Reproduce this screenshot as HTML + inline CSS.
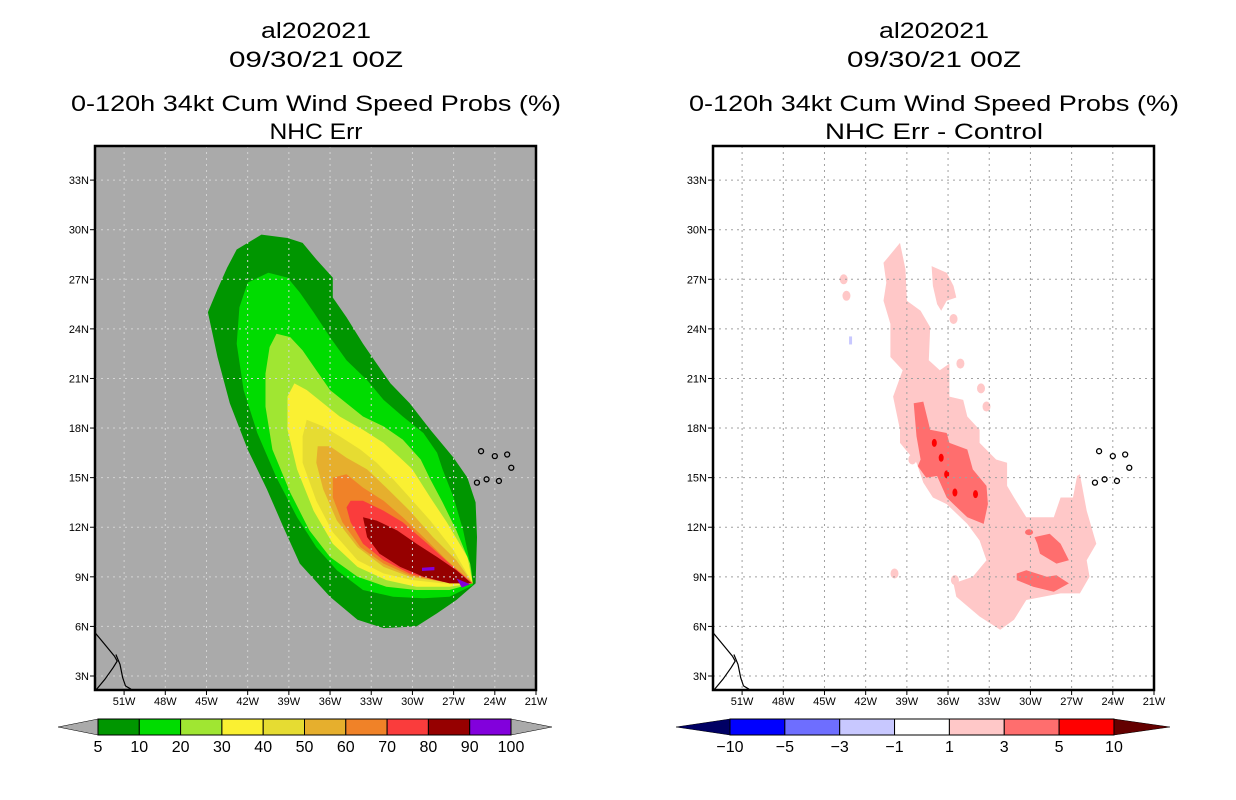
<!DOCTYPE html>
<html><head><meta charset="utf-8"><style>
html,body{margin:0;padding:0;background:#fff;}
svg{display:block;font-family:"Liberation Sans",sans-serif;}
</style></head><body>
<svg id="chart" width="1236" height="800" viewBox="0 0 1236 800">
<rect width="1236" height="800" fill="#fff"/>
<defs>
<clipPath id="clipL"><rect x="95" y="146" width="441" height="544"/></clipPath>
<clipPath id="clipR"><rect x="713" y="146" width="441" height="544"/></clipPath>
</defs>
<g id="left"></g>
<g id="right"></g>
<g id="cbars"></g>
</svg>
<script>
// ---- data (lon in degrees W, lat in degrees N) ----
const lonTicks = [51,48,45,42,39,36,33,30,27,24,21];
const latTicks = [3,6,9,12,15,18,21,24,27,30,33];
const probLevels = ['5','10','20','30','40','50','60','70','80','90','100'];
const probColors = ['#009600','#00dc00','#a0e632','#faf032','#e6dc32','#e6af2d','#f08228','#fa3c3c','#960000','#8200dc'];
const diffLevels = ['\u221210','\u22125','\u22123','\u22121','1','3','5','10'];
const diffColors = ['#0000ff','#6e6eff','#c8c8ff','#ffffff','#ffc8c8','#ff6e6e','#ff0000'];
const prob5 = [[41.0,29.7],[39.1,29.5],[38.0,29.2],[37.0,28.2],[35.8,27.1],[35.8,25.9],[34.8,24.7],[33.6,23.1],[32.6,21.9],[31.6,20.7],[30.2,19.5],[28.7,17.9],[27.0,16.2],[26.0,15.0],[25.4,13.5],[25.3,11.4],[25.4,8.6],[26.8,7.6],[28.2,6.8],[29.7,6.0],[32.1,5.9],[34.0,6.4],[36.0,7.8],[38.2,9.8],[39.4,12.0],[40.6,14.3],[42.0,16.7],[43.3,19.5],[44.2,22.3],[44.9,25.0],[44.2,26.4],[43.5,27.7],[42.8,28.8]];
const prob10 = [[40.5,27.4],[39.1,27.1],[38.2,26.2],[37.2,25.0],[36.0,23.5],[34.8,22.1],[33.3,20.9],[32.1,19.7],[30.7,18.7],[29.2,17.7],[28.2,16.5],[27.8,15.5],[27.0,13.8],[26.3,11.8],[25.7,9.4],[25.6,8.5],[27.3,7.8],[29.2,7.7],[31.4,7.8],[33.6,8.2],[35.5,9.4],[37.0,10.8],[38.4,12.6],[39.9,15.0],[41.3,17.7],[42.3,20.3],[42.8,23.1],[42.6,25.3],[42.0,26.8]];
const prob20 = [[39.9,23.7],[38.9,23.5],[38.0,22.7],[37.0,21.5],[36.0,20.3],[34.8,19.5],[33.6,18.7],[32.1,18.1],[30.7,17.3],[29.4,16.1],[28.7,14.9],[27.8,13.5],[26.8,11.8],[25.8,9.8],[25.6,8.6],[27.3,8.2],[29.7,8.2],[31.9,8.4],[34.0,9.0],[36.0,10.2],[37.5,11.8],[38.9,14.1],[40.2,16.7],[40.7,19.3],[40.7,21.3],[40.4,22.9]];
const prob30 = [[38.6,20.7],[37.7,20.3],[36.5,19.5],[35.3,18.7],[33.6,17.9],[32.1,17.1],[30.9,16.2],[30.0,15.5],[28.7,13.8],[27.5,12.3],[26.0,10.2],[25.6,8.6],[27.3,8.4],[29.7,8.4],[31.9,8.8],[34.0,9.6],[35.8,11.0],[37.2,13.0],[38.4,15.5],[39.1,17.9],[39.1,19.9]];
const prob40 = [[37.7,18.5],[36.5,18.1],[35.3,17.5],[33.8,16.7],[32.6,15.9],[31.4,14.9],[30.2,13.8],[28.7,12.4],[27.0,10.6],[25.6,8.6],[27.8,8.6],[30.0,8.8],[32.1,9.2],[34.0,10.0],[35.8,11.7],[37.0,13.6],[38.0,15.9],[38.0,17.5]];
const prob50 = [[36.9,16.9],[36.0,16.9],[34.8,16.2],[33.3,15.5],[31.9,14.4],[30.2,13.0],[28.5,11.4],[26.8,10.0],[25.6,8.6],[27.8,8.7],[30.2,9.0],[32.1,9.6],[34.0,10.8],[35.5,12.4],[36.5,14.3],[37.0,15.9]];
const prob60 = [[35.8,15.0],[34.8,15.2],[33.6,14.4],[32.1,13.6],[30.7,12.6],[29.2,11.4],[27.5,10.0],[25.6,8.6],[27.8,8.7],[30.2,9.1],[32.1,9.8],[33.8,10.8],[35.1,12.3],[35.8,13.8]];
const prob70 = [[34.5,13.6],[33.6,13.6],[32.1,13.0],[30.7,12.3],[28.9,11.0],[27.3,9.8],[25.6,8.6],[27.8,8.7],[30.2,9.2],[32.1,10.0],[33.6,11.0],[34.5,12.3],[34.8,13.2]];
const prob80 = [[33.6,12.6],[32.6,12.4],[31.1,11.8],[29.7,11.0],[28.2,10.2],[26.8,9.4],[25.7,8.6],[27.3,8.6],[29.2,9.0],[30.9,9.6],[32.4,10.4],[33.3,11.4]];
const prob90a = [[26.8,8.9],[25.8,8.55],[26.4,8.35]];
const prob90b = [[29.3,9.55],[28.4,9.6],[28.4,9.4],[29.3,9.35]];
const diff1main = [[40.7,28.0],[39.5,29.2],[39.1,27.6],[39.0,25.7],[38.0,25.1],[37.3,24.1],[37.4,22.1],[36.6,21.5],[35.9,21.9],[35.9,19.9],[34.9,19.7],[34.6,18.7],[33.7,17.9],[33.7,17.1],[32.5,16.1],[31.7,15.9],[31.7,14.5],[31.2,13.8],[30.3,12.6],[28.3,12.6],[27.8,13.8],[26.9,13.8],[26.6,15.1],[26.4,15.2],[25.9,13.0],[25.2,11.0],[25.9,10.0],[25.7,9.0],[26.4,8.0],[27.8,8.0],[30.3,7.6],[31.2,6.4],[32.2,5.8],[33.7,6.6],[35.4,7.8],[35.6,8.6],[34.2,9.0],[33.2,10.0],[33.7,11.2],[34.6,12.2],[36.1,13.4],[37.1,13.8],[37.8,14.7],[38.3,15.9],[39.5,17.1],[39.5,17.9],[40.0,19.9],[39.3,21.5],[40.2,22.3],[40.2,24.3],[40.7,25.7],[40.5,26.8]];
const diff1blob = [[37.2,27.8],[36.1,27.4],[35.6,26.6],[35.4,25.9],[36.1,25.7],[36.5,25.1],[36.8,25.5],[37.1,26.6]];
const diff1small = [[35.6,24.6],[35.1,21.9],[43.6,27.0],[43.4,26.0],[38.6,16.1],[39.9,9.2],[35.5,8.8],[33.6,20.4],[33.2,19.3]];
const diff3main = [[38.5,19.5],[37.8,19.6],[37.3,17.9],[36.1,17.7],[35.9,17.1],[34.6,16.7],[34.2,15.5],[33.2,14.5],[33.1,13.4],[33.4,12.2],[34.6,12.6],[35.6,13.4],[36.1,13.8],[36.8,15.1],[37.6,15.0],[38.2,15.7],[38.0,16.1],[38.3,17.5]];
const diff3right = [[29.7,11.4],[28.6,11.6],[27.8,11.0],[27.2,10.0],[28.1,9.8],[29.3,10.4],[29.5,11.0]];
const diff3bottom = [[31.0,9.2],[30.3,9.4],[28.8,9.0],[28.1,9.1],[27.2,8.6],[28.3,8.1],[29.8,8.4],[31.0,8.8]];
const diff3small = [[30.1,11.7]];
const diff5dots = [[37.0,17.1],[36.5,16.2],[36.1,15.2],[35.5,14.1],[34.0,14.0]];
const diffNeg1 = [[43.1,23.3]];
const coast1 = [[53.1,5.6],[52.5,5.0],[52.0,4.5],[51.7,4.2],[51.5,3.9],[51.8,3.5],[52.4,2.8],[53.0,2.2]];
const coast2 = [[51.6,4.3],[51.3,3.7],[51.1,2.9],[50.9,2.4],[50.5,2.2]];
const islands = [[25.0,16.6],[24.0,16.3],[23.1,16.4],[22.8,15.6],[23.7,14.8],[24.6,14.9],[25.3,14.7]];

// ---- axes ----
const NS='http://www.w3.org/2000/svg';
function xs(lonW, off){ return 536 + off - (lonW-21)*13.73; }
function ys(lat){ return 676 - (lat-3)*16.53; }
function el(tag, attrs, parent){ const e=document.createElementNS(NS,tag); for(const k in attrs) e.setAttribute(k,attrs[k]); parent.appendChild(e); return e; }
function pts(arr, off){ return arr.map(p=>xs(p[0],off).toFixed(1)+','+ys(p[1]).toFixed(1)).join(' '); }

function panel(gid, off, bg, gridColor, titleLines, clipId){
  const g=document.getElementById(gid);
  const cx = 316+off;
  titleLines.forEach((t,i)=>{
    const tx=el('text',{x:cx-t.w/2,y:t.y,'font-size':22,fill:'#000',textLength:t.w,lengthAdjust:'spacingAndGlyphs'},g);
    tx.textContent=t.s;
    
    
  });
  const bgr=el('rect',{x:95+off,y:146,width:441,height:544,fill:bg},g);
  
  
  const layer=el('g',{'clip-path':'url(#'+clipId+')'},g);
  
  
  return {g, layer};
}
function grid(p, off, color){
  const gg=el('g',{stroke:color,'stroke-width':1,'stroke-dasharray':'2,4'},p.layer);
  
  
  lonTicks.slice(0,10).forEach(l=>{ el('line',{x1:xs(l,off),x2:xs(l,off),y1:146,y2:690},gg); });
  latTicks.forEach(l=>{ el('line',{x1:95+off,x2:536+off,y1:ys(l),y2:ys(l)},gg); });
}
function axes(p, off){
  const g=p.g;
  lonTicks.forEach(l=>{
    const x=xs(l,off);
    el('line',{x1:x,x2:x,y1:690,y2:695,stroke:'#000'},g);
    const t=el('text',{x:x,y:705,'font-size':11,'text-anchor':'middle',fill:'#000'},g);
    t.textContent=l+'W';
    
    
  });
  latTicks.forEach(l=>{
    const y=ys(l);
    el('line',{x1:90+off,x2:95+off,y1:y,y2:y,stroke:'#000'},g);
    const t=el('text',{x:89+off,y:y+4,'font-size':11,'text-anchor':'end',fill:'#000'},g);
    t.textContent=l+'N';
    
    
  });
  const fr=el('rect',{x:95+off,y:146,width:441,height:544,fill:'none',stroke:'#000','stroke-width':2.5},g);
  
  
}
function geo(p, off){
  [coast1,coast2].forEach(c=>{
    const l=el('polyline',{points:pts(c,off),fill:'none',stroke:'#000','stroke-width':1.2},p.layer);
    
    
  });
  islands.forEach(c=>{
    const i=el('circle',{cx:xs(c[0],off),cy:ys(c[1]),r:2.5,fill:'none',stroke:'#000','stroke-width':1.3},p.layer);
    
    
  });
}
function poly(layer, arr, off, color, name){
  const e=el('polygon',{points:pts(arr,off),fill:color},layer);
  
  
  return e;
}

// Left panel
const L=panel('left',0,'#aaaaaa','#d0d0d0',[
  {s:'al202021',y:38,w:110,name:'storm-id-title'},
  {s:'09/30/21 00Z',y:67,w:174,name:'date-title'},
  {s:'0-120h 34kt Cum Wind Speed Probs (%)',y:111,w:490,name:'chart-title'},
  {s:'NHC Err',y:139,w:93,name:'chart-subtitle'}],'clipL');
const probPolys=[prob5,prob10,prob20,prob30,prob40,prob50,prob60,prob70,prob80];
probPolys.forEach((pp,i)=>poly(L.layer,pp,0,probColors[i],'prob-contour-'+probLevels[i]));
poly(L.layer,prob90a,0,probColors[9],'prob-contour-90');
poly(L.layer,prob90b,0,probColors[9],'prob-contour-90');
grid(L,0,'#d4d4d4');
geo(L,0);
axes(L,0);

// Right panel
const R=panel('right',618,'#ffffff','#999',[
  {s:'al202021',y:38,w:110,name:'storm-id-title'},
  {s:'09/30/21 00Z',y:67,w:174,name:'date-title'},
  {s:'0-120h 34kt Cum Wind Speed Probs (%)',y:111,w:490,name:'chart-title'},
  {s:'NHC Err - Control',y:139,w:218,name:'chart-subtitle'}],'clipR');
poly(R.layer,diff1main,618,diffColors[4],'diff-contour-1');
poly(R.layer,diff1blob,618,diffColors[4],'diff-contour-1');
diff1small.forEach(c=>{
  const e=el('ellipse',{cx:xs(c[0],618),cy:ys(c[1]),rx:4,ry:5,fill:diffColors[4]},R.layer);
  
  
});
poly(R.layer,diff3main,618,diffColors[5],'diff-contour-3');
poly(R.layer,diff3right,618,diffColors[5],'diff-contour-3');
poly(R.layer,diff3bottom,618,diffColors[5],'diff-contour-3');
diff3small.forEach(c=>{
  const e=el('ellipse',{cx:xs(c[0],618),cy:ys(c[1]),rx:4,ry:3,fill:diffColors[5]},R.layer);
  
  
});
diff5dots.forEach(c=>{
  const e=el('ellipse',{cx:xs(c[0],618),cy:ys(c[1]),rx:2.5,ry:4,fill:diffColors[6]},R.layer);
  
  
});
diffNeg1.forEach(c=>{
  const e=el('rect',{x:xs(c[0],618)-1.5,y:ys(c[1])-4,width:3,height:8,fill:diffColors[2]},R.layer);
  
  
});
grid(R,618,'#a0a0a0');
geo(R,618);
axes(R,618);

// Colorbars
const cb=document.getElementById('cbars');
(function(){
  const g=el('g',{},cb);
  
  
  const x0=98, w=41.3, y0=719, h=16;
  el('polygon',{points:`${x0},${y0} ${x0},${y0+h} 58,${y0+h/2}`,fill:'#aaaaaa',stroke:'#000','stroke-width':0.5},g);
  const xe=x0+w*probColors.length;
  el('polygon',{points:`${xe},${y0} ${xe},${y0+h} 552,${y0+h/2}`,fill:'#aaaaaa',stroke:'#000','stroke-width':0.5},g);
  probColors.forEach((c,i)=>{
    const r=el('rect',{x:x0+w*i,y:y0,width:w,height:h,fill:c,stroke:'#000','stroke-width':1},g);
    
    
  });
  probLevels.forEach((s,i)=>{
    const t=el('text',{x:x0+w*i,y:752,'font-size':16,'text-anchor':'middle',fill:'#000'},g);
    t.textContent=s;
    
    
  });
})();
(function(){
  const g=el('g',{},cb);
  
  
  const x0=730, w=54.85, y0=719, h=16;
  el('polygon',{points:`${x0},${y0} ${x0},${y0+h} 676,${y0+h/2}`,fill:'#000064',stroke:'#000','stroke-width':0.5},g);
  const xe=x0+w*diffColors.length;
  el('polygon',{points:`${xe},${y0} ${xe},${y0+h} 1170,${y0+h/2}`,fill:'#640000',stroke:'#000','stroke-width':0.5},g);
  diffColors.forEach((c,i)=>{
    const r=el('rect',{x:x0+w*i,y:y0,width:w,height:h,fill:c,stroke:'#000','stroke-width':1},g);
    
    
  });
  diffLevels.forEach((s,i)=>{
    const t=el('text',{x:x0+w*i,y:752,'font-size':16,'text-anchor':'middle',fill:'#000'},g);
    t.textContent=s;
    
    
  });
})();
</script>
</body></html>
